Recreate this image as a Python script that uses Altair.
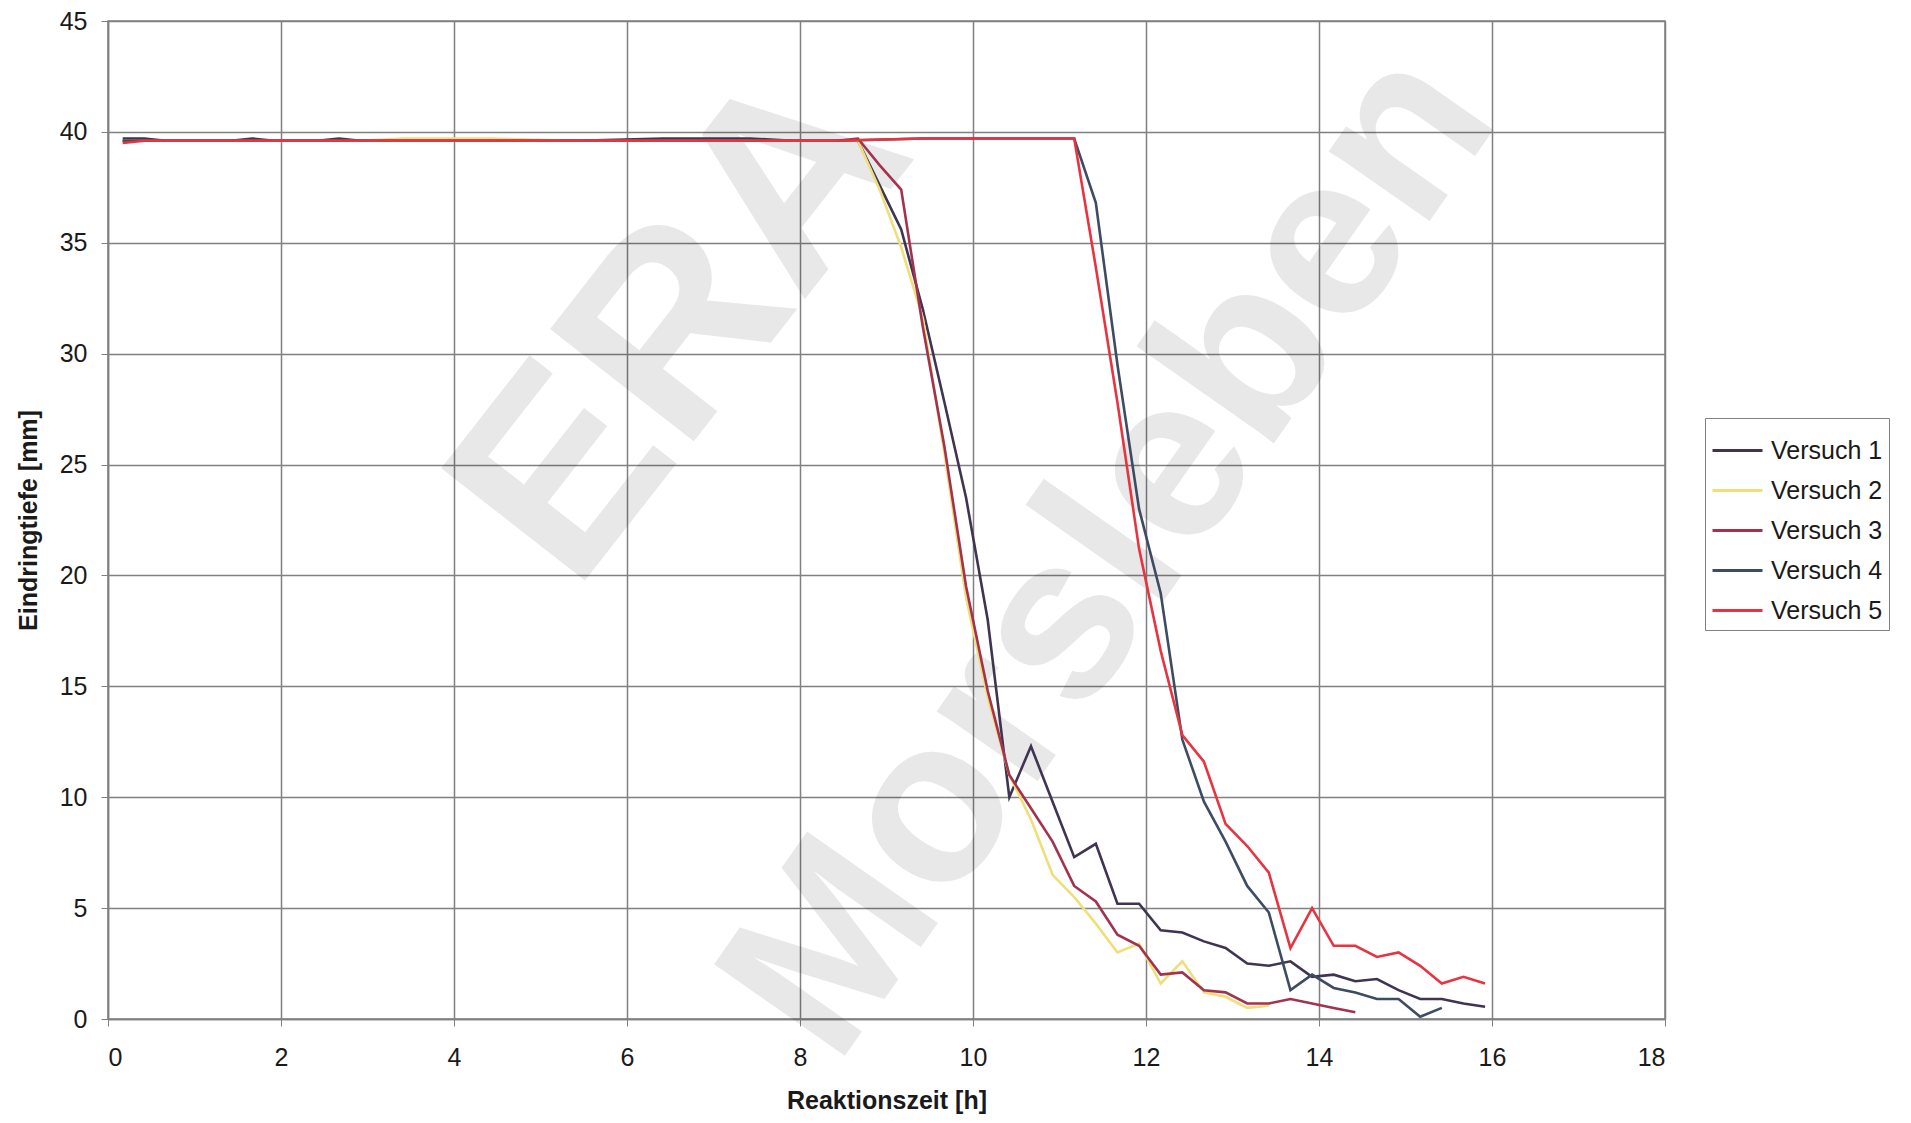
import altair as alt
import pandas as pd

series_names = ["Versuch 1", "Versuch 2", "Versuch 3", "Versuch 4", "Versuch 5"]
series_colors = ["#3f3552", "#f0de78", "#a3324f", "#3d4c63", "#e83340"]

# Reaktionszeit [h] / Eindringtiefe [mm]
v1_t = [0.17, 0.42, 0.67, 0.92, 1.42, 1.67, 1.92, 2.42, 2.67, 2.92, 3.42, 4.42, 5.42, 6.42, 6.92, 7.42, 7.92, 8.42, 8.67,
        8.92, 9.17, 9.42, 9.67, 9.92, 10.17, 10.42, 10.67, 10.92, 11.17, 11.42, 11.67, 11.92, 12.17, 12.42, 12.67,
        12.92, 13.17, 13.42, 13.67, 13.92, 14.17, 14.42, 14.67, 14.92, 15.17, 15.42, 15.67, 15.92]
v1_v = [39.7, 39.7, 39.6, 39.6, 39.6, 39.7, 39.6, 39.6, 39.7, 39.6, 39.6, 39.6, 39.6, 39.7, 39.7, 39.7, 39.6, 39.6, 39.6,
        37.6, 35.6, 32.0, 27.8, 23.5, 18.0, 10.0, 12.3, 9.8, 7.3, 7.9, 5.2, 5.2, 4.0, 3.9, 3.5,
        3.2, 2.5, 2.4, 2.6, 1.9, 2.0, 1.7, 1.8, 1.3, 0.9, 0.9, 0.7, 0.55]

v2_t = [0.17, 0.42, 0.67, 0.92, 1.42, 1.92, 2.42, 2.92, 3.42, 4.42, 5.42, 6.42, 7.42, 8.42, 8.67,
        8.92, 9.17, 9.42, 9.67, 9.92, 10.17, 10.42, 10.67, 10.92, 11.17, 11.42, 11.67, 11.92, 12.17, 12.42, 12.67,
        12.92, 13.17, 13.42]
v2_v = [39.6, 39.6, 39.6, 39.6, 39.6, 39.6, 39.6, 39.6, 39.7, 39.7, 39.6, 39.6, 39.6, 39.6, 39.6,
        37.4, 34.8, 31.6, 25.5, 19.0, 14.5, 11.0, 9.0, 6.5, 5.5, 4.3, 3.0, 3.4, 1.6, 2.6, 1.2,
        1.0, 0.5, 0.6]

v3_t = [0.17, 0.42, 0.67, 0.92, 1.42, 1.92, 2.42, 2.92, 3.42, 4.42, 5.42, 6.42, 7.42, 8.42, 8.67,
        8.92, 9.17, 9.42, 9.67, 9.92, 10.17, 10.42, 10.67, 10.92, 11.17, 11.42, 11.67, 11.92, 12.17, 12.42, 12.67,
        12.92, 13.17, 13.42, 13.67, 13.92, 14.17, 14.42]
v3_v = [39.6, 39.6, 39.6, 39.6, 39.6, 39.6, 39.6, 39.6, 39.6, 39.6, 39.6, 39.6, 39.6, 39.6, 39.7,
        38.5, 37.4, 31.2, 25.8, 19.5, 14.8, 11.0, 9.5, 8.0, 6.0, 5.3, 3.8, 3.3, 2.0, 2.1, 1.3,
        1.2, 0.7, 0.7, 0.9, 0.7, 0.5, 0.3]

v4_t = [0.17, 0.42, 0.92, 1.42, 1.92, 2.42, 2.92, 3.42, 4.42, 5.42, 6.42, 7.42, 8.42, 9.42, 10.42, 11.17,
        11.42, 11.67, 11.92, 12.17, 12.42, 12.67, 12.92, 13.17, 13.42, 13.67, 13.92, 14.17, 14.42, 14.67,
        14.92, 15.17, 15.42]
v4_v = [39.6, 39.6, 39.6, 39.6, 39.6, 39.6, 39.6, 39.6, 39.6, 39.6, 39.6, 39.6, 39.6, 39.7, 39.7, 39.7,
        36.8, 29.5, 23.0, 19.2, 12.6, 9.8, 8.0, 6.0, 4.8, 1.3, 2.0, 1.4, 1.2, 0.9,
        0.9, 0.1, 0.5]

v5_t = [0.17, 0.42, 0.92, 1.42, 1.92, 2.42, 2.92, 3.42, 4.42, 5.42, 6.42, 7.42, 8.42, 9.42, 10.42, 11.17,
        11.42, 11.67, 11.92, 12.17, 12.42, 12.67, 12.92, 13.17, 13.42, 13.67, 13.92, 14.17, 14.42, 14.67,
        14.92, 15.17, 15.42, 15.67, 15.92]
v5_v = [39.5, 39.6, 39.6, 39.6, 39.6, 39.6, 39.6, 39.6, 39.6, 39.6, 39.6, 39.6, 39.6, 39.7, 39.7, 39.7,
        33.9, 27.8, 21.2, 16.6, 12.8, 11.6, 8.8, 7.8, 6.6, 3.2, 5.0, 3.3, 3.3, 2.8,
        3.0, 2.4, 1.6, 1.9, 1.6]

x_ticks = [0, 2, 4, 6, 8, 10, 12, 14, 16, 18]
y_ticks = [0, 5, 10, 15, 20, 25, 30, 35, 40, 45]

wm_text = ["ERA", "Morsleben"]
wm_x = [6.65, 11.6]
wm_y = [31.3, 21.0]
wm_size = [265, 232]
wm_angle = [308, 305]

rows = []
for name, ts, vs in zip(series_names, [v1_t, v2_t, v3_t, v4_t, v5_t], [v1_v, v2_v, v3_v, v4_v, v5_v]):
    for t, v in zip(ts, vs):
        rows.append({"Versuch": name, "t": t, "v": v})
df = pd.DataFrame(rows)
wm = pd.DataFrame({"text": wm_text, "t": wm_x, "v": wm_y, "s": wm_size, "a": wm_angle})

FONT = "Liberation Sans"
GRID = "#808080"

x_scale = alt.Scale(domain=[0, 18], nice=False)
y_scale = alt.Scale(domain=[0, 45], nice=False)

x_axis = alt.Axis(values=x_ticks, grid=True, gridColor=GRID, gridWidth=1.5, domainColor=GRID,
                  domainWidth=1.5, tickColor=GRID, tickSize=7, labelFont=FONT, labelFontSize=25,
                  labelColor="#1a1a1a", labelPadding=19, title="Reaktionszeit [h]", titleFont=FONT,
                  titleFontSize=25, titleFontWeight="bold", titleColor="#1a1a1a", titlePadding=18)
y_axis = alt.Axis(values=y_ticks, grid=True, gridColor=GRID, gridWidth=1.5, domainColor=GRID,
                  domainWidth=1.5, tickColor=GRID, tickSize=7, labelFont=FONT, labelFontSize=25,
                  labelColor="#1a1a1a", labelPadding=14, title="Eindringtiefe [mm]", titleFont=FONT,
                  titleFontSize=25, titleFontWeight="bold", titleColor="#1a1a1a", titlePadding=18)

watermark = alt.Chart(wm).mark_text(
    font=FONT, fontWeight="bold", color="#000000", opacity=0.085
).encode(
    x=alt.X("t:Q", scale=x_scale, axis=x_axis),
    y=alt.Y("v:Q", scale=y_scale, axis=y_axis),
    size=alt.Size("s:Q", scale=None),
    angle=alt.Angle("a:Q", scale=None),
    text="text:N",
)

lines = alt.Chart(df).mark_line(strokeWidth=2.6).encode(
    x=alt.X("t:Q", scale=x_scale, axis=x_axis),
    y=alt.Y("v:Q", scale=y_scale, axis=y_axis),
    color=alt.Color("Versuch:N", scale=alt.Scale(domain=series_names, range=series_colors),
                    legend=alt.Legend(title=None, orient="none", legendX=1597, legendY=397,
                                      symbolType="stroke", symbolSize=2500, symbolStrokeWidth=3,
                                      labelFont=FONT, labelFontSize=25, labelColor="#1a1a1a",
                                      labelOffset=7, rowPadding=0, padding=6,
                                      strokeColor=GRID, fillColor="#ffffff")),
    order="t:Q",
)

chart = alt.layer(watermark, lines).properties(
    width=1557, height=998,
    autosize=alt.AutoSizeParams(type="none"),
    padding={"left": 108, "top": 21, "right": 246, "bottom": 104},
    background="#ffffff",
).configure_view(stroke=GRID, strokeWidth=1.5)

chart.save("out.html", embed_options={"renderer": "svg", "actions": False})
